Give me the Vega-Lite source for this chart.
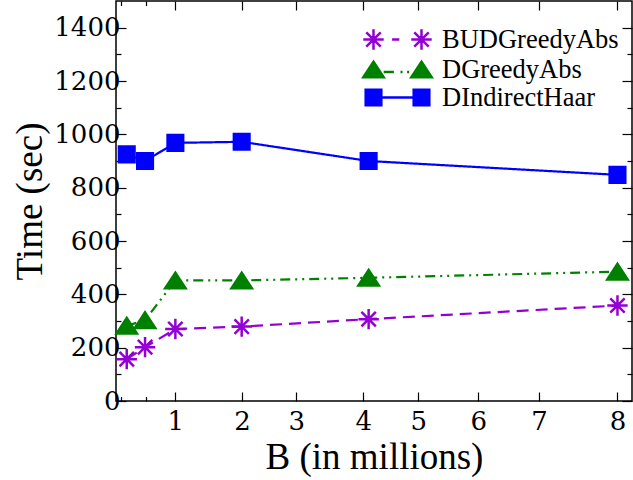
{
  "$schema": "https://vega.github.io/schema/vega-lite/v6.json",
  "width": 516,
  "height": 400,
  "autosize": {"type": "none"},
  "padding": {"left": 116, "top": 1, "right": 1, "bottom": 79},
  "config": {
    "font": "Times New Roman",
    "view": {"stroke": "black", "strokeWidth": 1.5},
    "axis": {
      "domain": false,
      "grid": false,
      "tickColor": "black",
      "tickWidth": 1.2,
      "labelColor": "black",
      "labelFont": "DejaVu Serif",
      "labelFontSize": 26,
      "titleFont": "Times New Roman",
      "titleFontSize": 37,
      "titleFontWeight": "normal",
      "titleColor": "black"
    },
    "legend": {"labelFont": "Times New Roman"}
  },
  "datasets": {
    "main": [
      {"series": "BUDGreedyAbs", "x": 0.23, "y": 157},
      {"series": "BUDGreedyAbs", "x": 0.52, "y": 202},
      {"series": "BUDGreedyAbs", "x": 1, "y": 270},
      {"series": "BUDGreedyAbs", "x": 2.05, "y": 279},
      {"series": "BUDGreedyAbs", "x": 4.06, "y": 307},
      {"series": "BUDGreedyAbs", "x": 8, "y": 358},
      {"series": "DGreedyAbs", "x": 0.23, "y": 282},
      {"series": "DGreedyAbs", "x": 0.52, "y": 303},
      {"series": "DGreedyAbs", "x": 1, "y": 452},
      {"series": "DGreedyAbs", "x": 2.05, "y": 452},
      {"series": "DGreedyAbs", "x": 4.06, "y": 462},
      {"series": "DGreedyAbs", "x": 8, "y": 485},
      {"series": "DIndirectHaar", "x": 0.23, "y": 925},
      {"series": "DIndirectHaar", "x": 0.52, "y": 900},
      {"series": "DIndirectHaar", "x": 1, "y": 968},
      {"series": "DIndirectHaar", "x": 2.05, "y": 972},
      {"series": "DIndirectHaar", "x": 4.06, "y": 900},
      {"series": "DIndirectHaar", "x": 8, "y": 848}
    ]
  },
  "layer": [
    {
      "data": {"name": "main"},
      "mark": {"type": "line", "strokeWidth": 2.2},
      "encoding": {
        "x": {
          "field": "x", "type": "quantitative",
          "scale": {"domain": [0.06, 8.23], "nice": false, "zero": false},
          "axis": {
            "orient": "bottom",
            "values": [0.139, 0.53, 1, 2.055, 2.915, 3.976, 4.847, 5.797, 6.759, 8],
            "labelExpr": "datum.value < 0.9 ? '' : format(round(datum.value), 'd')",
            "tickSize": {"condition": {"test": "datum.value < 0.9", "value": -4.5}, "value": -9},
            "labelFont": "DejaVu Serif",
            "labelFontSize": 26,
            "labelPadding": 16,
            "labelFlush": false,
            "labelOverlap": false,
            "title": "B (in millions)",
            "titlePadding": 1
          }
        },
        "y": {
          "field": "y", "type": "quantitative",
          "scale": {"domain": [0, 1500], "nice": false},
          "axis": {
            "orient": "left",
            "values": [0, 100, 200, 300, 400, 500, 600, 700, 800, 900, 1000, 1100, 1200, 1300, 1400],
            "labelExpr": "datum.value % 200 == 0 ? format(datum.value, 'd') : ''",
            "tickSize": {"condition": {"test": "datum.value % 200 != 0", "value": -5}, "value": -10},
            "labelFont": "DejaVu Serif",
            "labelFontSize": 26,
            "labelPadding": 6,
            "labelFlush": false,
            "labelOverlap": false,
            "title": "Time (sec)",
            "titlePadding": 4
          }
        },
        "color": {
          "field": "series", "type": "nominal",
          "scale": {"domain": ["BUDGreedyAbs", "DGreedyAbs", "DIndirectHaar"], "range": ["#9400d3", "#008000", "#0000ff"]},
          "legend": null
        },
        "strokeDash": {
          "field": "series", "type": "nominal",
          "scale": {"domain": ["BUDGreedyAbs", "DGreedyAbs", "DIndirectHaar"], "range": [[12, 7], [10, 5, 2, 5, 2, 5], [1, 0]]},
          "legend": null
        }
      }
    },
    {
      "data": {"name": "main"},
      "mark": {"type": "point", "filled": true, "size": 576, "strokeWidth": 2.5, "opacity": 1},
      "encoding": {
        "x": {
          "field": "x", "type": "quantitative",
          "scale": {"domain": [0.06, 8.23], "nice": false, "zero": false},
          "axis": {
            "orient": "top",
            "values": [0.139, 0.53, 1, 2.055, 2.915, 3.976, 4.847, 5.797, 6.759, 8],
            "labels": false,
            "tickSize": {"condition": {"test": "datum.value < 0.9", "value": -4.5}, "value": -9},
            "title": null
          }
        },
        "y": {
          "field": "y", "type": "quantitative",
          "scale": {"domain": [0, 1500], "nice": false},
          "axis": {
            "orient": "right",
            "values": [0, 100, 200, 300, 400, 500, 600, 700, 800, 900, 1000, 1100, 1200, 1300, 1400],
            "labels": false,
            "tickSize": {"condition": {"test": "datum.value % 200 != 0", "value": -5}, "value": -10},
            "title": null
          }
        },
        "color": {
          "field": "series", "type": "nominal",
          "scale": {"domain": ["BUDGreedyAbs", "DGreedyAbs", "DIndirectHaar"], "range": ["#9400d3", "#008000", "#0000ff"]},
          "legend": null
        },
        "stroke": {
          "field": "series", "type": "nominal",
          "scale": {"domain": ["BUDGreedyAbs", "DGreedyAbs", "DIndirectHaar"], "range": ["#9400d3", "#008000", "#0000ff"]},
          "legend": null
        },
        "shape": {
          "field": "series", "type": "nominal",
          "scale": {
            "domain": ["BUDGreedyAbs", "DGreedyAbs", "DIndirectHaar"],
            "range": [
              "M-0.85,0L0.85,0M0,-0.85L0,0.85M-0.6,-0.6L0.6,0.6M-0.6,0.6L0.6,-0.6",
              "M0,-0.65L0.85,0.65L-0.85,0.65Z",
              "M-0.65,-0.65L0.65,-0.65L0.65,0.65L-0.65,0.65Z"
            ]
          },
          "legend": null
        }
      }
    },
    {
      "data": {"name": "main"},
      "transform": [{"filter": "false"}],
      "mark": {"type": "point", "filled": true, "size": 576, "strokeWidth": 2.5, "opacity": 1},
      "encoding": {
        "x": {"field": "x", "type": "quantitative", "scale": {"domain": [0.06, 8.23], "nice": false, "zero": false}, "axis": null},
        "y": {"field": "y", "type": "quantitative", "scale": {"domain": [0, 1500], "nice": false}, "axis": null},
        "color": {
          "field": "series", "type": "nominal",
          "scale": {"domain": ["BUDGreedyAbs", "DGreedyAbs", "DIndirectHaar"], "range": ["#9400d3", "#008000", "#0000ff"]},
          "legend": {"orient": "none", "legendX": 268, "legendY": 25, "title": null, "padding": 0, "symbolSize": 576, "symbolStrokeWidth": 2.5, "symbolOpacity": 1, "labelFont": "Times New Roman", "labelFontSize": 26.5, "labelColor": "black", "labelOffset": 31, "rowPadding": 1, "labelLimit": 0}
        },
        "stroke": {
          "field": "series", "type": "nominal",
          "scale": {"domain": ["BUDGreedyAbs", "DGreedyAbs", "DIndirectHaar"], "range": ["#9400d3", "#008000", "#0000ff"]},
          "legend": {"orient": "none", "legendX": 268, "legendY": 25, "title": null, "padding": 0, "symbolSize": 576, "symbolStrokeWidth": 2.5, "symbolOpacity": 1, "labelFont": "Times New Roman", "labelFontSize": 26.5, "labelColor": "black", "labelOffset": 31, "rowPadding": 1, "labelLimit": 0}
        },
        "shape": {
          "field": "series", "type": "nominal",
          "scale": {
            "domain": ["BUDGreedyAbs", "DGreedyAbs", "DIndirectHaar"],
            "range": [
              "M-2.85,0L-1.15,0M-2,-0.85L-2,0.85M-2.6,-0.6L-1.4,0.6M-2.6,0.6L-1.4,-0.6M1.15,0L2.85,0M2,-0.85L2,0.85M1.4,-0.6L2.6,0.6M1.4,0.6L2.6,-0.6M-0.45,0L0.15,0",
              "M-2,-0.65L-1.15,0.65L-2.85,0.65ZM2,-0.65L2.85,0.65L1.15,0.65ZM-1.15,0.2L-0.3,0.2M0.25,0.2L0.42,0.2M0.8,0.2L0.97,0.2",
              "M-2.65,-0.65L-1.35,-0.65L-1.35,0.65L-2.65,0.65ZM1.35,-0.65L2.65,-0.65L2.65,0.65L1.35,0.65ZM-1.35,0L1.35,0"
            ]
          },
          "legend": {"orient": "none", "legendX": 268, "legendY": 25, "title": null, "padding": 0, "symbolSize": 576, "symbolStrokeWidth": 2.5, "symbolOpacity": 1, "labelFont": "Times New Roman", "labelFontSize": 26.5, "labelColor": "black", "labelOffset": 31, "rowPadding": 1, "labelLimit": 0}
        }
      }
    }
  ],
  "resolve": {
    "scale": {"color": "independent", "stroke": "independent", "shape": "independent", "strokeDash": "independent"},
    "axis": {"x": "independent", "y": "independent"}
  }
}
